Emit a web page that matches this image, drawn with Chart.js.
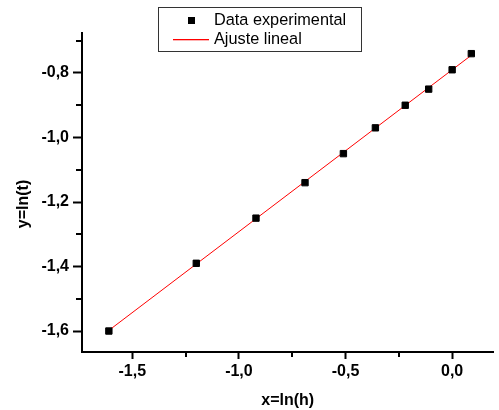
<!DOCTYPE html>
<html>
<head>
<meta charset="utf-8">
<script src="https://cdn.jsdelivr.net/npm/chart.js@4"></script>
<style>
  body { margin: 0; background: #fff; }
  #wrap { width: 499px; height: 410px; }
</style>
</head>
<body>
<div id="wrap"><canvas id="myChart"></canvas></div>
<script>
// datos
const xData = [-1.61, -1.20, -0.92, -0.69, -0.51, -0.36, -0.22, -0.11, 0.00, 0.09];
const yData = [-1.60, -1.39, -1.25, -1.14, -1.05, -0.97, -0.90, -0.85, -0.79, -0.74];
// extremos de la recta de ajuste
const fitX = [-1.61, 0.09];
const fitY = [-1.598, -0.745];

const xTicks = [-1.5, -1.25, -1.0, -0.75, -0.5, -0.25, 0.0];
const xLabels = ['-1,5', '', '-1,0', '', '-0,5', '', '0,0'];
const yTicks = [-1.6, -1.5, -1.4, -1.3, -1.2, -1.1, -1.0, -0.9, -0.8, -0.7];
const yLabels = ['-1,6', '', '-1,4', '', '-1,2', '', '-1,0', '', '-0,8', ''];

const FONT = "'Liberation Sans', Arial, sans-serif";

// ticks menores (mas cortos) y titulo del eje y
const extras = {
  id: 'extras',
  afterDraw(chart) {
    const ctx = chart.ctx;
    const xs = chart.scales.x, ys = chart.scales.y;
    const area = chart.chartArea;
    ctx.save();
    ctx.strokeStyle = '#000';
    ctx.lineWidth = 2;
    ctx.beginPath();
    xTicks.forEach((v, i) => {
      if (xLabels[i] !== '') return;
      const px = Math.round(xs.getPixelForValue(v));
      ctx.moveTo(px, area.bottom);
      ctx.lineTo(px, area.bottom + 5);
    });
    yTicks.forEach((v, i) => {
      if (yLabels[i] !== '') return;
      const py = Math.round(ys.getPixelForValue(v));
      ctx.moveTo(area.left, py);
      ctx.lineTo(area.left - 6, py);
    });
    ctx.stroke();

    ctx.fillStyle = '#000';
    ctx.font = 'bold 16px ' + FONT;
    ctx.textAlign = 'center';
    ctx.textBaseline = 'middle';
    ctx.translate(24, 204);
    ctx.rotate(-Math.PI / 2);
    ctx.fillText('y=ln(t)', 0, 0);
    ctx.restore();
  }
};

const boxLegend = {
  id: 'boxLegend',
  afterDraw(chart) {
    const ctx = chart.ctx;
    ctx.save();
    ctx.strokeStyle = '#333';
    ctx.lineWidth = 1;
    ctx.fillStyle = '#fff';
    ctx.fillRect(158.5, 7.5, 203, 44);
    ctx.strokeRect(158.5, 7.5, 203, 44);
    ctx.font = '16.3px ' + FONT;
    ctx.textBaseline = 'middle';
    ctx.fillStyle = '#000';
    // fila 1: puntos
    ctx.fillRect(188, 17, 7, 7);
    ctx.fillText(chart.data.datasets[1].label, 214, 21);
    // fila 2: recta
    ctx.fillStyle = chart.data.datasets[0].borderColor;
    ctx.fillRect(173, 39, 36, 1.3);
    ctx.fillStyle = '#000';
    ctx.fillText(chart.data.datasets[0].label, 214, 39.5);
    ctx.restore();
  }
};

const majorColor = (labels) => (c) => (labels[c.index] === '' ? 'rgba(0,0,0,0)' : '#000');

const config = {
  type: 'scatter',
  data: {
    datasets: [{
      label: 'Ajuste lineal',
      data: fitX.map((x, i) => ({ x: x, y: fitY[i] })),
      showLine: true,
      borderColor: '#ff0000',
      backgroundColor: '#ff0000',
      borderWidth: 1,
      pointRadius: 0,
      order: 1
    }, {
      label: 'Data experimental',
      data: xData.map((x, i) => ({ x: x, y: yData[i] })),
      pointStyle: 'rect',
      pointRadius: 4.5,
      backgroundColor: '#000',
      borderColor: '#000',
      borderWidth: 1,
      order: 0
    }]
  },
  options: {
    responsive: true,
    maintainAspectRatio: false,
    animation: false,
    layout: { padding: { top: 33, right: 0, left: 0, bottom: 0 } },
    plugins: { legend: { display: false }, tooltip: { enabled: false } },
    scales: {
      x: {
        type: 'linear',
        min: -1.736,
        max: 0.194,
        afterBuildTicks: s => { s.ticks = xTicks.map(v => ({ value: v })); },
        afterFit: s => { s.height = 58; },
        border: { display: true, color: '#000', width: 2 },
        grid: { drawOnChartArea: false, drawTicks: true, tickLength: 7, tickWidth: 2, tickColor: majorColor(xLabels) },
        ticks: {
          color: '#000',
          padding: 3,
          maxRotation: 0,
          autoSkip: false,
          font: { family: FONT, size: 16, weight: 'bold' },
          callback: (v, i) => xLabels[i]
        },
        title: {
          display: true,
          text: 'x=ln(h)',
          color: '#000',
          padding: { top: 0, bottom: 0 },
          font: { family: FONT, size: 16, weight: 'bold' }
        }
      },
      y: {
        type: 'linear',
        min: -1.665,
        max: -0.676,
        afterBuildTicks: s => { s.ticks = yTicks.map(v => ({ value: v })); },
        afterFit: s => { s.width = 82; },
        border: { display: true, color: '#000', width: 2 },
        grid: { drawOnChartArea: false, drawTicks: true, tickLength: 9, tickWidth: 2, tickColor: majorColor(yLabels) },
        ticks: {
          color: '#000',
          padding: 4,
          autoSkip: false,
          font: { family: FONT, size: 16, weight: 'bold' },
          callback: (v, i) => yLabels[i]
        },
        title: { display: false }
      }
    }
  },
  plugins: [extras, boxLegend]
};

const myChart = new Chart(document.getElementById('myChart'), config);
</script>
</body>
</html>
